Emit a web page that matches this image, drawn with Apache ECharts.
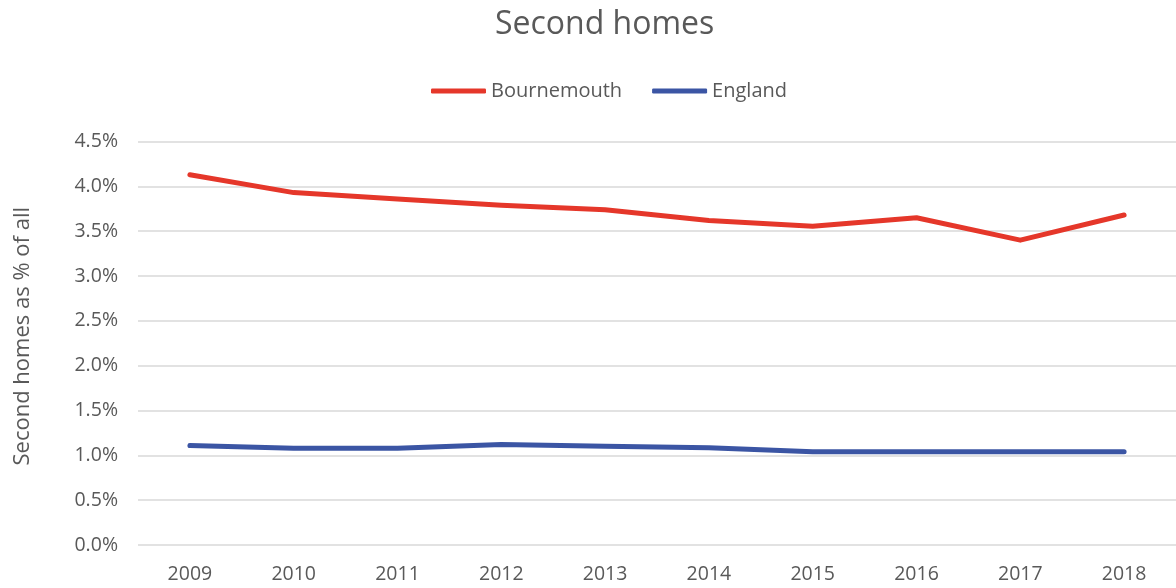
<!DOCTYPE html>
<html>
<head>
<meta charset="utf-8">
<script src="https://cdn.jsdelivr.net/npm/echarts@6/dist/echarts.min.js"></script>
<style>html,body{margin:0;padding:0;background:#fff}#c{width:1176px;height:588px}</style>
</head>
<body>
<div id="c"></div>
<script>
const years = ['2009','2010','2011','2012','2013','2014','2015','2016','2017','2018'];
const bournemouth = [4.13, 3.93, 3.86, 3.79, 3.74, 3.62, 3.555, 3.65, 3.40, 3.68];
const england = [1.11, 1.08, 1.08, 1.12, 1.10, 1.085, 1.04, 1.04, 1.04, 1.04];
const yTicks = [0, 0.5, 1, 1.5, 2, 2.5, 3, 3.5, 4, 4.5];

const font = '"Open Sans", "Noto Sans", sans-serif';
const txt = '#595959';
const chart = echarts.init(document.getElementById('c'));
chart.setOption({
  animation: false,
  textStyle: { fontFamily: font },
  title: {
    text: 'Second homes', left: 490, top: 4,
    textStyle: { fontFamily: font, fontSize: 32, fontWeight: 'normal', color: txt }
  },
  legend: {
    top: 76, left: 426, itemWidth: 55, itemHeight: 5, itemGap: 30,
    icon: 'roundRect',
    textStyle: { fontFamily: font, fontSize: 20, color: txt },
    data: ['Bournemouth', 'England']
  },
  grid: { left: 138, top: 141.5, width: 1042, height: 403.5, containLabel: false },
  xAxis: {
    type: 'category', data: years, boundaryGap: true,
    axisLine: { show: false }, axisTick: { show: false },
    axisLabel: { fontFamily: font, fontSize: 19.5, color: txt, margin: 19 }
  },
  yAxis: {
    type: 'value', min: yTicks[0], max: yTicks[yTicks.length - 1], interval: 0.5,
    name: 'Second homes as % of all', nameLocation: 'middle', nameGap: 104,
    nameTextStyle: { fontFamily: font, fontSize: 22, color: txt, padding: [0, 0, 0, 14] },
    axisLine: { show: false }, axisTick: { show: false },
    splitLine: { lineStyle: { color: '#d9d9d9', width: 1.5 } },
    axisLabel: { fontFamily: font, fontSize: 19.5, color: txt, margin: 20,
      formatter: v => v.toFixed(1) + '%' }
  },
  series: [
    { name: 'Bournemouth', type: 'line', data: bournemouth, symbol: 'none',
      itemStyle: { color: '#E5372A' },
      lineStyle: { color: '#E5372A', width: 5, cap: 'round', join: 'round' } },
    { name: 'England', type: 'line', data: england, symbol: 'none',
      itemStyle: { color: '#3B55A4' },
      lineStyle: { color: '#3B55A4', width: 5, cap: 'round', join: 'round' } }
  ]
});
</script>
</body>
</html>
